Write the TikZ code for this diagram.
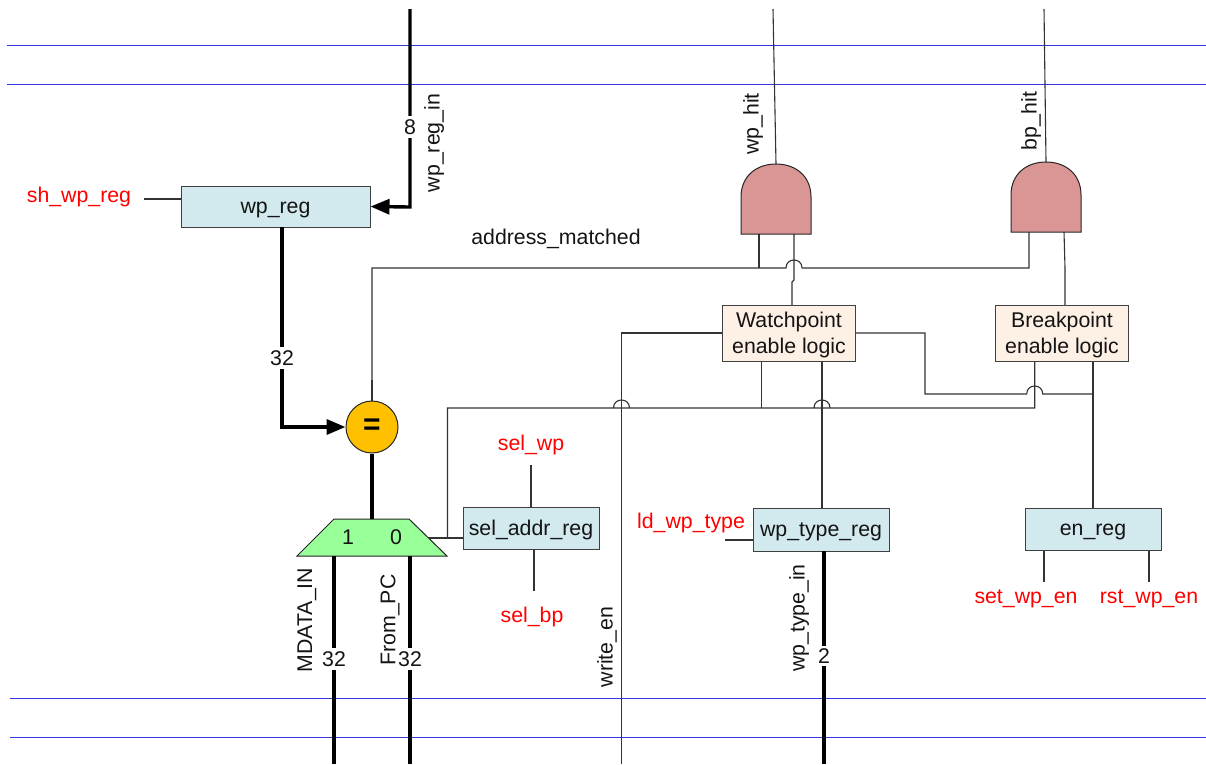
\documentclass[tikz,border=0pt]{standalone}
\usepackage{fontspec}
\setmainfont{Liberation Sans}
\usetikzlibrary{arrows.meta}
\definecolor{regfill}{HTML}{D2E9EE}
\definecolor{logicfill}{HTML}{FDF0E5}
\definecolor{gatefill}{HTML}{D99694}
\definecolor{cmpfill}{HTML}{FFC000}
\definecolor{muxfill}{HTML}{99FF99}
\definecolor{railblue}{HTML}{3838E0}
\definecolor{boxline}{HTML}{404040}
\newcommand\hop[2]{-- (#1-8,#2) .. controls (#1-8,#2-10.7) and (#1+8,#2-10.7) .. (#1+8,#2)}
\tikzset{
  lbl/.style={inner sep=0pt,font=\fontsize{21.3}{26}\selectfont,text=black!92},
  redlbl/.style={lbl,text=red,yshift=-1.5pt},
  hlbl/.style={lbl,yshift=-1.5pt},
  vlbl/.style={lbl,rotate=90},
  buslbl/.style={lbl,fill=white,inner ysep=3pt,inner xsep=1pt},
  regbox/.style={draw=boxline,line width=1pt,fill=regfill,inner sep=0pt,text height=13pt,text depth=0pt,font=\fontsize{21.3}{26}\selectfont,text=black!92},
  logicbox/.style={draw=boxline,line width=1pt,fill=logicfill,inner sep=0pt,align=center,minimum width=133pt,minimum height=56pt,font=\fontsize{21.3}{26}\selectfont,text=black!92},
  wire/.style={line width=1.1pt,draw=black!80},
  bus/.style={line width=3.4pt,draw=black},
  rail/.style={line width=0.9pt,draw=railblue},
  gateshape/.style={draw=black!85,line width=1pt,fill=gatefill},
  head/.style={-{Triangle[length=19pt,width=15pt]}}
}
\begin{document}
\begin{tikzpicture}[x=1pt,y=-1pt]
\useasboundingbox (0,0) rectangle (1206,764);
% rails
\coordinate (r1a) at (7,45);   \coordinate (r1b) at (1206,45);
\coordinate (r2a) at (7,84);   \coordinate (r2b) at (1206,84);
\coordinate (r3a) at (10,698); \coordinate (r3b) at (1206,698);
\coordinate (r4a) at (10,737); \coordinate (r4b) at (1206,737);
\draw[rail] (r1a)--(r1b); \draw[rail] (r2a)--(r2b);
\draw[rail] (r3a)--(r3b); \draw[rail] (r4a)--(r4b);

% free ends
\coordinate (wpregtop) at (410,9);
\coordinate (wptop) at (773,9);
\coordinate (bptop) at (1044,9);
\coordinate (shend) at (144,199);
\coordinate (mdbot) at (334,764);
\coordinate (pcbot) at (410,764);
\coordinate (webot) at (621.5,764);
\coordinate (tybot) at (824,764);
\coordinate (selwpend) at (531,465);
\coordinate (selbpend) at (534,591);
\coordinate (ldend) at (725,540);
\coordinate (setend) at (1044,582);
\coordinate (rstend) at (1149,582);

% mux
\coordinate (muxtl) at (334,519);
\coordinate (muxtr) at (409,519);
\coordinate (muxbr) at (447,556);
\coordinate (muxbl) at (297,556);
\coordinate (muxout) at (372,519);
\coordinate (muxsel) at (428,538);

% gates
\coordinate (g1in1) at (759,234);
\coordinate (g1in2) at (794,234);
\coordinate (g1out) at (776,164);
\coordinate (g2in1) at (1029,232);
\coordinate (g2in2) at (1064,232);
\coordinate (g2out) at (1046,162);

% wires under shapes
\draw[wire] (wptop)--(g1out);
\draw[wire] (bptop)--(g2out);
\draw[wire] (shend)--(181,199);

\draw[wire] (372,400) -- (372,268) -- (759,268) \hop{794}{268} -- (1029,268) -- (g2in1);
\draw[wire] (759,268) -- (g1in1);
\draw[wire] (792,305) -- (792,282) -- (794,280) -- (g1in2);
\draw[wire] (1065,305) -- (1065,268) -- (g2in2);

\draw[wire] (723,333) -- (621.5,333) -- (webot);
\draw[wire] (856,333) -- (925,333) -- (925,394) \hop{1034.7}{394} -- (1093,394);
\draw[wire] (1034.7,361) -- (1034.7,408) -- (830,408) \hop{822}{408} -- (761.5,408) -- (630,408) \hop{621.5}{408} -- (447.5,408) -- (447.5,538);
\draw[wire] (761.5,361) -- (761.5,408);
\draw[wire] (822,361) -- (822,508);
\draw[wire] (1093,361) -- (1093,508);
\draw[wire] (muxsel) -- (463,538);
\draw[wire] (531,507) -- (selwpend);
\draw[wire] (534,549) -- (selbpend);
\draw[wire] (ldend) -- (753,540);
\draw[wire] (1044,550) -- (setend);
\draw[wire] (1149,550) -- (rstend);

% gates
\draw[gateshape] (741,234) -- (741,197) .. controls (741,176) and (756.5,164) .. (776,164) .. controls (795.5,164) and (811,176) .. (811,197) -- (811,234) -- cycle;
\draw[gateshape] (1011,232) -- (1011,195) .. controls (1011,174) and (1026.5,162) .. (1046,162) .. controls (1065.5,162) and (1081,174) .. (1081,195) -- (1081,232) -- cycle;

% mux shape
\draw[draw=black!85,line width=1pt,fill=muxfill] (muxtl)--(muxtr)--(muxbr)--(muxbl)--cycle;

% boxes
\node[regbox,minimum width=189pt,minimum height=41pt] (wpreg) at (275.5,206.5) {wp\_reg};
\node[regbox,minimum width=136pt,minimum height=42pt] (seladdr) at (531,528.5) {sel\_addr\_reg};
\node[regbox,minimum width=136pt,minimum height=43pt] (wptype) at (821,529.5) {wp\_type\_reg};
\node[regbox,minimum width=136pt,minimum height=42pt] (enreg) at (1093,529) {en\_reg};
\node[logicbox] (wplogic) at (789,333) {\rule{0pt}{22.2pt}Watchpoint\\\strut enable logic};
\node[logicbox] (bplogic) at (1062,333) {\rule{0pt}{22.2pt}Breakpoint\\\strut enable logic};

% comparator
\node[circle,draw=black!85,line width=1pt,fill=cmpfill,minimum size=52pt,inner sep=0pt,font=\fontsize{30}{30}\selectfont\bfseries] (cmp) at (372,427) {=};
\draw[wire] (cmp.north) -- (372,380);

% buses
\draw[bus,head] (wpregtop) -- (410,207) -- (wpreg.east);
\draw[bus,head] (282,227) -- (282,427) -- (cmp.west);
\draw[bus] (cmp.south) -- (muxout);
\draw[bus] (334,556) -- (mdbot);
\draw[bus] (410,556) -- (pcbot);
\draw[bus] (824,551) -- (tybot);

% labels
\node[buslbl] (n8) at (410,127) {8};
\node[buslbl] (n32a) at (282,358) {32};
\node[buslbl] (n32b) at (334,659) {32};
\node[buslbl] (n32c) at (410,659) {32};
\node[buslbl] (n2) at (824,656) {2};
\node[vlbl] (twpregin) at (434,143) {wp\_reg\_in};
\node[vlbl] (twphit) at (753,124) {wp\_hit};
\node[vlbl] (tbphit) at (1031,121) {bp\_hit};
\node[hlbl] (taddr) at (556,237) {address\_matched};
\node[vlbl] (tmd) at (307,620) {MDATA\_IN};
\node[vlbl] (tpc) at (390,620) {From\_PC};
\node[vlbl] (twe) at (607,647) {write\_en};
\node[vlbl] (tty) at (799,618) {wp\_type\_in};
\node[lbl] (m1) at (348,537) {1};
\node[lbl] (m0) at (396,537) {0};
\node[redlbl] (tsh) at (79,195) {sh\_wp\_reg};
\node[redlbl] (tselwp) at (531,443) {sel\_wp};
\node[redlbl] (tselbp) at (532,615) {sel\_bp};
\node[redlbl] (tld) at (691,521) {ld\_wp\_type};
\node[redlbl] (tset) at (1026,597) {set\_wp\_en};
\node[redlbl] (trst) at (1149,597) {rst\_wp\_en};
\end{tikzpicture}
\end{document}
